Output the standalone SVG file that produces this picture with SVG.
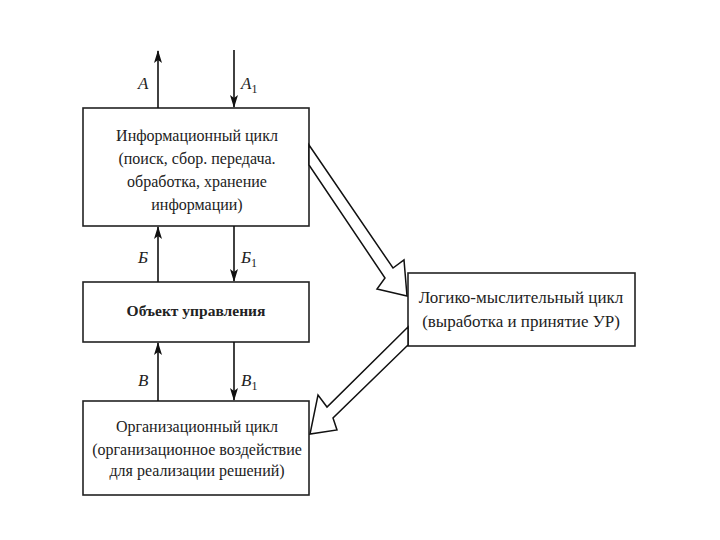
<svg xmlns="http://www.w3.org/2000/svg" width="720" height="540" viewBox="0 0 720 540">
<style>
.box{fill:#fff;stroke:#222;stroke-width:1.6}
.t{font-family:"Liberation Serif","Times New Roman",serif;font-size:16px;fill:#222;text-anchor:middle}
.r{font-size:17px}
.b{font-weight:bold;font-size:15.5px}
.lbl{font-family:"Liberation Serif","Times New Roman",serif;font-size:17px;font-style:italic;fill:#222}
.sub{font-size:12px;font-style:normal}
.ln{stroke:#111;stroke-width:1.6;fill:none}
.hollow{fill:#fff;stroke:#111;stroke-width:1.5;stroke-linejoin:miter}
</style>
<defs>
<marker id="ahs" viewBox="0 0 13 8" refX="12" refY="4" markerWidth="13" markerHeight="8" orient="auto" markerUnits="userSpaceOnUse">
<path d="M0,0 L13,4 L0,8 L3,4 Z" fill="#111"/>
</marker>
</defs>
<rect width="720" height="540" fill="#fff"/>
<g id="info">
<rect class="box" x="83" y="108" width="226" height="118"/>
<text class="t" x="197" y="141">Информационный цикл</text>
<text class="t" x="197" y="164">(поиск, сбор. передача.</text>
<text class="t" x="197" y="187">обработка, хранение</text>
<text class="t" x="197" y="210">информации)</text>
</g>
<g id="object">
<rect class="box" x="83" y="282" width="226" height="60"/>
<text class="t b" x="196" y="316">Объект управления</text>
</g>
<g id="org">
<rect class="box" x="83" y="401" width="226" height="94"/>
<text class="t" x="197" y="432">Организационный цикл</text>
<text class="t" x="197" y="455">(организационное воздействие</text>
<text class="t" x="197" y="476">для реализации решений)</text>
</g>
<g id="logic">
<rect class="box" x="408" y="273" width="227" height="73"/>
<text class="t r" x="521" y="303">Логико-мыслительный цикл</text>
<text class="t r" x="521" y="327">(выработка и принятие УР)</text>
</g>
<g id="connectors">
<line class="ln" x1="158" y1="108" x2="158" y2="51" marker-end="url(#ahs)"/>
<line class="ln" x1="234" y1="50" x2="234" y2="107" marker-end="url(#ahs)"/>
<line class="ln" x1="158" y1="282" x2="158" y2="227" marker-end="url(#ahs)"/>
<line class="ln" x1="234" y1="226" x2="234" y2="281" marker-end="url(#ahs)"/>
<line class="ln" x1="158" y1="401" x2="158" y2="343" marker-end="url(#ahs)"/>
<line class="ln" x1="234" y1="342" x2="234" y2="400" marker-end="url(#ahs)"/>
<polygon class="hollow" points="309,145 393,268 404,260 407,296 377,289 385,278 309,165"/>
<polygon class="hollow" points="408,327 327,407 318,395 310,434 337,430 333,418 408,345"/>
</g>
<g id="labels">
<text class="lbl" x="138" y="89">А</text>
<text class="lbl" x="241" y="89">А<tspan class="sub" dy="4">1</tspan></text>
<text class="lbl" x="138" y="263">Б</text>
<text class="lbl" x="241" y="263">Б<tspan class="sub" dy="4">1</tspan></text>
<text class="lbl" x="138" y="386">В</text>
<text class="lbl" x="241" y="386">В<tspan class="sub" dy="4">1</tspan></text>
</g>
</svg>
